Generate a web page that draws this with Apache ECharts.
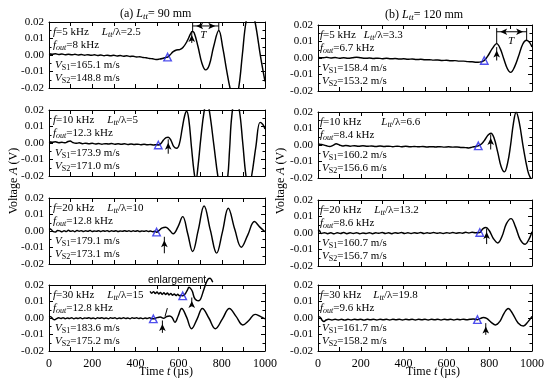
<!DOCTYPE html>
<html><head><meta charset="utf-8">
<script src="https://cdn.jsdelivr.net/npm/echarts/dist/echarts.min.js"></script>
<style>html,body{margin:0;padding:0;background:#fff}#c{width:550px;height:381px}</style>
</head><body><div id="c"></div>
<script>
// ---------------- data ----------------
const xTickLabels = [0, 200, 400, 600, 800, 1000];
const yTickLabels = [-0.02, -0.01, 0.00, 0.01, 0.02];

const freqs = ['5', '10', '20', '30'];
const ratioA = ['2.5', '5', '10', '15'];
const foutA = ['8', '12.3', '12.8', '12.8'];
const vs1A = ['165.1', '173.9', '179.1', '183.6'];
const vs2A = ['148.8', '171.0', '173.1', '175.2'];
const ratioB = ['3.3', '6.6', '13.2', '19.8'];
const foutB = ['6.7', '8.4', '8.6', '9.6'];
const vs1B = ['158.4', '160.2', '160.7', '161.7'];
const vs2B = ['153.2', '156.6', '156.7', '158.2'];

const a1 = [[0,0.0008],[15,0.0005],[30,0.0007],[45,0.0003],[60,0.0006],[75,0.0002],[90,0.0005],[105,0.0001],[120,0.0004],[135,0.0],[150,0.0003],[165,-0.0001],[180,0.0002],[195,-0.0002],[210,0.0001],[225,-0.0003],[240,0.0],[255,-0.0004],[270,-0.0001],[285,-0.0005],[300,-0.0002],[315,-0.0006],[330,-0.0003],[345,-0.0007],[360,-0.0005],[375,-0.0009],[390,-0.0007],[405,-0.0012],[420,-0.0011],[435,-0.0015],[450,-0.0017],[465,-0.0021],[480,-0.0023],[495,-0.0027],[510,-0.0025],[525,-0.0021],[540,-0.0015],[549,-0.0013],[560,0.0],[575,0.002],[590,0.003],[605,0.0033],[620,0.0045],[640,0.0085],[655,0.0128],[663,0.0142],[672,0.0135],[690,0.005],[708,-0.005],[725,-0.009],[742,-0.006],[762,0.005],[786,0.0148],[805,0.004],[822,-0.009],[838,-0.02],[858,-0.03],[878,-0.02],[895,0.0],[912,0.02],[933,0.03],[954,0.02],[980,-0.0015],[1000,-0.016]];

const a2 = [[0,0.0008],[15,0.0005],[30,0.0007],[45,0.0002],[60,0.0004],[75,0.0001],[88,0.0009],[98,0.0012],[110,0.0003],[125,-0.0002],[140,0.0001],[155,-0.0004],[170,-0.0001],[185,-0.0005],[200,-0.0002],[215,-0.0006],[230,-0.0003],[245,-0.0007],[260,-0.0004],[275,-0.0006],[290,-0.0003],[305,-0.0007],[320,-0.0005],[335,-0.0008],[350,-0.0005],[365,-0.0009],[380,-0.0006],[395,-0.0009],[410,-0.0007],[425,-0.001],[440,-0.0008],[455,-0.0011],[470,-0.0009],[485,-0.0012],[496,-0.001],[506,-0.0012],[518,-0.0003],[530,0.0018],[542,0.0032],[552,0.0035],[564,0.0018],[578,-0.0022],[591,-0.0032],[603,-0.0008],[617,0.009],[628,0.0165],[637,0.0192],[647,0.0145],[660,-0.003],[672,-0.018],[680,-0.0225],[690,-0.014],[703,0.003],[718,0.019],[731,0.025],[743,0.019],[763,-0.001],[784,-0.022],[805,-0.034],[826,-0.022],[836,-0.004],[846,0.016],[863,0.028],[881,0.02],[897,0.0],[912,-0.02],[925,-0.027],[938,-0.02],[958,-0.002],[977,0.0125],[990,0.0112],[1000,0.0085]];

const a3 = [[0,0.0015],[10,0.0009],[20,-0.0004],[30,-0.0006],[40,0.0003],[50,0.0001],[60,-0.0005],[70,0.0002],[80,-0.0003],[90,0.0004],[100,-0.0002],[110,0.0001],[120,-0.0004],[130,0.0003],[140,-0.0001],[150,0.0002],[160,-0.0003],[170,0.0001],[180,-0.0002],[190,0.0003],[200,-0.0003],[210,0.0],[220,-0.0002],[230,0.0002],[240,-0.0003],[250,0.0001],[260,-0.0001],[270,0.0002],[280,-0.0003],[290,0.0001],[300,-0.0002],[310,0.0002],[320,-0.0003],[330,0.0],[340,-0.0002],[350,0.0002],[360,-0.0002],[370,0.0001],[380,-0.0003],[390,0.0001],[400,-0.0002],[410,0.0002],[420,-0.0003],[430,0.0],[440,-0.0002],[450,0.0001],[460,-0.0003],[470,0.0],[480,-0.0004],[490,-0.0002],[498,-0.0007],[510,0.0004],[522,0.0017],[540,0.0023],[557,0.0006],[575,-0.0017],[597,0.0025],[619,0.0087],[642,-0.0015],[665,-0.0124],[691,0.0005],[718,0.0152],[747,0.0005],[776,-0.0134],[803,-0.0005],[830,0.0138],[860,0.001],[890,-0.0098],[920,-0.0025],[951,0.0057],[975,0.0025],[1000,-0.0005]];

const a4 = [[0,0.0011],[10,0.0006],[18,-0.0006],[26,-0.0011],[35,-0.0004],[45,0.0001],[55,-0.0003],[65,0.0002],[75,-0.0004],[85,0.0],[95,-0.0003],[105,0.0001],[115,-0.0004],[125,0.0],[135,-0.0003],[145,0.0001],[155,-0.0004],[165,0.0],[175,-0.0002],[185,0.0002],[195,-0.0003],[205,0.0],[215,-0.0004],[225,0.0001],[235,-0.0002],[245,0.0002],[255,-0.0003],[265,0.0],[275,-0.0004],[285,0.0001],[295,-0.0002],[305,0.0001],[315,-0.0004],[325,0.0],[335,-0.0003],[345,0.0001],[355,-0.0003],[365,0.0],[375,-0.0004],[385,0.0001],[395,-0.0002],[405,0.0001],[415,-0.0003],[425,0.0],[435,-0.0004],[445,0.0],[455,-0.0003],[465,0.0001],[475,-0.0004],[483,-0.0005],[500,0.0002],[515,0.0006],[530,-0.0002],[545,0.0009],[558,0.0012],[570,0.0003],[583,-0.0026],[598,0.0012],[614,0.0058],[637,0.0005],[660,-0.0065],[686,-0.0005],[710,0.0058],[740,0.0],[770,-0.0065],[803,-0.0005],[835,0.0058],[866,0.001],[897,-0.0042],[925,-0.0015],[954,0.0022],[980,0.0008],[1000,-0.0005]];

const a4Enlarged = [[468,0.0162],[476,0.0150],[484,0.0160],[492,0.0148],[500,0.0158],[508,0.0146],[516,0.0155],[524,0.0143],[532,0.0153],[540,0.0142],[548,0.0151],[556,0.0140],[564,0.0149],[572,0.0138],[580,0.0146],[588,0.0136],[596,0.0144],[604,0.0135],[612,0.0138],[619,0.0134],[630,0.0145],[640,0.0168],[648,0.0186],[656,0.0178],[664,0.016],[672,0.0125],[682,0.0108],[692,0.0104],[702,0.0115],[715,0.0165],[728,0.0215],[738,0.0238],[746,0.0241],[752,0.0232],[758,0.0217]];
const a4Connector = [[537,0.0009],[548,0.006]];

const b1 = [[0,0.0003],[20,0.0001],[40,0.0004],[60,0.0],[80,0.0003],[100,-0.0001],[120,0.0002],[140,-0.0002],[160,0.0001],[180,0.0005],[200,0.0001],[220,-0.0002],[240,0.0],[260,-0.0003],[280,-0.0001],[300,-0.0004],[320,-0.0002],[340,-0.0005],[360,-0.0003],[380,-0.0006],[400,-0.0005],[420,-0.0008],[440,-0.0006],[460,-0.0009],[480,-0.0008],[500,-0.0011],[520,-0.001],[540,-0.0013],[560,-0.0012],[580,-0.0015],[600,-0.0014],[620,-0.0017],[640,-0.0016],[660,-0.0019],[680,-0.0019],[700,-0.0022],[720,-0.0023],[740,-0.0026],[755,-0.0025],[777,-0.0015],[795,0.0015],[815,0.0058],[835,0.0087],[852,0.0055],[868,-0.0005],[885,-0.0065],[900,-0.0087],[918,-0.0055],[937,0.001],[957,0.0085],[975,0.0108],[990,0.0092],[1000,0.0066]];

const b2 = [[0,0.0007],[12,0.0004],[25,0.0001],[40,-0.0005],[55,-0.0009],[70,-0.0002],[85,0.0007],[100,0.0],[115,-0.0006],[130,-0.0003],[150,-0.0007],[170,-0.0004],[190,-0.0008],[210,-0.0005],[230,-0.0008],[250,-0.0006],[270,-0.0009],[290,-0.0006],[310,-0.0009],[330,-0.0007],[350,-0.001],[370,-0.0007],[390,-0.001],[410,-0.0008],[430,-0.0011],[450,-0.0009],[470,-0.0011],[490,-0.0009],[510,-0.0012],[530,-0.001],[550,-0.0012],[570,-0.001],[590,-0.0013],[610,-0.0011],[630,-0.0013],[650,-0.0012],[670,-0.0015],[690,-0.0016],[705,-0.0018],[720,-0.0013],[735,-0.0009],[749,-0.0005],[765,0.0008],[780,0.0032],[795,0.006],[808,0.0071],[822,0.0045],[840,-0.0045],[856,-0.0132],[871,-0.0163],[886,-0.011],[900,0.0],[913,0.013],[926,0.0198],[940,0.014],[960,-0.002],[980,-0.0155],[991,-0.0195],[1000,-0.021]];

const b3 = [[0,0.002],[8,0.0012],[15,-0.0003],[30,0.0002],[45,-0.0004],[60,0.0001],[75,-0.0005],[90,0.0002],[105,-0.0003],[120,0.0003],[135,-0.0004],[150,0.0001],[165,-0.0003],[180,0.0002],[195,-0.0004],[210,0.0],[225,-0.0003],[240,0.0002],[255,-0.0004],[270,0.0001],[285,-0.0002],[300,0.0003],[315,-0.0003],[330,0.0001],[345,-0.0004],[360,0.0002],[375,-0.0002],[390,0.0003],[405,-0.0003],[420,0.0001],[435,-0.0003],[450,0.0002],[465,-0.0002],[480,0.0003],[495,-0.0003],[510,0.0001],[525,-0.0002],[540,0.0003],[555,-0.0002],[570,0.0001],[585,-0.0003],[600,0.0002],[615,-0.0001],[630,0.0003],[645,-0.0002],[660,0.0002],[675,-0.0001],[690,0.0004],[705,0.0],[720,0.0004],[735,0.0002],[756,0.0003],[770,0.0025],[785,0.0033],[800,0.0015],[820,-0.0035],[840,-0.006],[860,-0.002],[880,0.0055],[902,0.0087],[922,0.004],[945,-0.004],[968,-0.0068],[985,-0.004],[1000,0.0008]];

const b4 = [[0,0.001],[10,0.0005],[20,-0.0015],[28,-0.0021],[38,-0.0012],[50,-0.0008],[65,-0.0012],[80,-0.0007],[95,-0.0012],[110,-0.0008],[125,-0.0013],[140,-0.0008],[155,-0.0012],[170,-0.0007],[185,-0.0011],[200,-0.0008],[215,-0.0013],[230,-0.0008],[245,-0.0011],[260,-0.0007],[275,-0.0012],[290,-0.0008],[305,-0.0011],[320,-0.0007],[335,-0.0012],[350,-0.0008],[365,-0.0011],[380,-0.0007],[395,-0.0012],[410,-0.0008],[425,-0.0011],[440,-0.0007],[455,-0.0012],[470,-0.0008],[485,-0.0011],[500,-0.0007],[515,-0.0012],[530,-0.0008],[545,-0.0011],[560,-0.0007],[575,-0.0012],[590,-0.0008],[605,-0.0011],[620,-0.0007],[635,-0.0012],[650,-0.0008],[665,-0.001],[680,-0.0007],[695,-0.0011],[710,-0.0008],[725,-0.0006],[745,-0.001],[760,-0.0002],[772,0.0003],[788,-0.0002],[808,-0.0025],[830,-0.0042],[850,-0.002],[870,0.003],[889,0.0058],[908,0.003],[935,-0.003],[960,-0.0048],[980,-0.0025],[1000,0.001]];

// onset markers (triangles) and arrival arrows [t, vFrom, vTo]
const triA = [[549,-0.0013],[506,-0.0012],[498,-0.0007],[483,-0.0005]];
const triB = [[777,-0.0015],[749,-0.0005],[756,0.0003],[745,-0.001]];
const arrowA = [[661,0.0073,0.0142],[552,-0.0065,0.0022],[534,-0.0135,-0.0035],[525,-0.009,-0.0015]];
const arrowB = [[835,-0.0015,0.0066],[807,-0.0027,0.0064],[788,-0.0067,0.0027],[784,-0.0102,-0.0031]];
const enlTri = [619,0.0134];
const enlArrow = [661,0.0073,0.0124];
const enlLabel = [593,0.0231];
// period markers: [t1, t2, peak1, peak2, barLevel, topLevel, labelT, labelV]
const periodA = [665, 786, 0.0142, 0.0148, 0.0176, 0.0195, 714, 0.0120];
const periodB = [835, 975, 0.0087, 0.0108, 0.0159, 0.0182, 902, 0.0104];

// ---------------- layout ----------------
const FS = 'Liberation Serif';
const colLeft = [49, 318], colWidth = [216, 214];
const rowTops = [[22, 110, 198, 285], [25, 112, 200, 285]];
const GH = 66;
const lGap = [[13, 13, 13, 13], [8, 20, 13, 12]];

const traces = [[a1, a2, a3, a4], [b1, b2, b3, b4]];
const texts = [
  {ratio: ratioA, fout: foutA, vs1: vs1A, vs2: vs2A, tri: triA, arrow: arrowA},
  {ratio: ratioB, fout: foutB, vs1: vs1B, vs2: vs2B, tri: triB, arrow: arrowB}
];

const grids = [], xAxes = [], yAxes = [], series = [];
const fmtY = v => (Math.abs(v) < 1e-9 ? 0 : v).toFixed(2);

function xAx(g, pos, showLabel) {
  return {gridIndex: g, type: 'value', position: pos, min: 0, max: 1000, interval: 100,
    axisLine: {show: true, onZero: false, lineStyle: {color: '#000', width: 1}},
    axisTick: {show: true, inside: true, length: 4, lineStyle: {color: '#000', width: 1}},
    axisLabel: {show: showLabel, margin: 7, color: '#000', fontFamily: FS, fontSize: 12,
      showMinLabel: true, showMaxLabel: true,
      formatter: v => (xTickLabels.indexOf(v) >= 0 ? String(v) : '')},
    splitLine: {show: false}};
}
function yAx(g, pos, showLabel) {
  return {gridIndex: g, type: 'value', position: pos, min: -0.02, max: 0.02, interval: 0.01,
    axisLine: {show: true, onZero: false, lineStyle: {color: '#000', width: 1}},
    axisTick: {show: true, inside: true, length: 4, lineStyle: {color: '#000', width: 1}},
    minorTick: {show: true, splitNumber: 2, length: 2.5, lineStyle: {color: '#000', width: 1}},
    axisLabel: {show: showLabel, margin: 5, color: '#000', fontFamily: FS, fontSize: 11,
      showMinLabel: true, showMaxLabel: true, formatter: fmtY},
    splitLine: {show: false}, minorSplitLine: {show: false}};
}
function lineS(ai, data, opts) {
  return Object.assign({type: 'line', xAxisIndex: ai, yAxisIndex: ai, data: data,
    symbol: 'none', showSymbol: true, smooth: 0.4, animation: false,
    lineStyle: {color: '#000', width: 1.45}, itemStyle: {color: '#000'}, z: 3}, opts || {});
}
function triS(ai, p) {
  return {type: 'scatter', xAxisIndex: ai, yAxisIndex: ai, data: [p], symbol: 'triangle',
    symbolSize: 7.5, animation: false, clip: false, z: 6,
    itemStyle: {color: 'rgba(255,255,255,0)', borderColor: '#2323e8', borderWidth: 1.4}};
}
function arrowS(ai, a) {
  return lineS(ai, [[a[0], a[1]], {value: [a[0], a[2]], symbol: 'arrow', symbolSize: [5, 7], symbolOffset: [0, 3.5]}],
    {smooth: false, clip: false, lineStyle: {color: '#000', width: 1}, z: 7});
}

for (let c = 0; c < 2; c++) {
  for (let r = 0; r < 4; r++) {
    const g = c * 4 + r;
    grids.push({left: colLeft[c], top: rowTops[c][r], width: colWidth[c], height: GH, outerBoundsMode: 'none'});
    xAxes.push(xAx(g, 'bottom', r === 3));
    xAxes.push(xAx(g, 'top', false));
    yAxes.push(yAx(g, 'left', true));
    yAxes.push(yAx(g, 'right', false));
    const ai = 2 * g;
    series.push(lineS(ai, traces[c][r], {clip: true}));
    series.push(triS(ai, texts[c].tri[r]));
    series.push(arrowS(ai, texts[c].arrow[r]));
  }
}
// period markers on first row
[[0, periodA], [4, periodB]].forEach(([g, p]) => {
  const ai = 2 * g;
  series.push(lineS(ai, [[p[0], p[5]], [p[0], p[2]]], {smooth: false, clip: false, lineStyle: {color: '#000', width: 1}, z: 7}));
  series.push(lineS(ai, [[p[1], p[5]], [p[1], p[3]]], {smooth: false, clip: false, lineStyle: {color: '#000', width: 1}, z: 7}));
  series.push(lineS(ai, [
    {value: [p[0], p[4]], symbol: 'arrow', symbolSize: [5, 7], symbolRotate: 90, symbolOffset: [3.5, 0]},
    {value: [p[1], p[4]], symbol: 'arrow', symbolSize: [5, 7], symbolRotate: -90, symbolOffset: [-3.5, 0]}],
    {smooth: false, clip: false, lineStyle: {color: '#000', width: 1}, z: 7}));
});
// enlargement in panel a4 (grid 3)
series.push(lineS(6, a4Enlarged, {clip: false, smooth: 0.3, lineStyle: {color: '#000', width: 1.45}}));
series.push(lineS(6, a4Connector, {clip: false, smooth: false, lineStyle: {color: '#000', width: 1}}));
series.push(triS(6, enlTri));
series.push(arrowS(6, enlArrow));

const chart = echarts.init(document.getElementById('c'), null, {renderer: 'canvas'});
chart.setOption({animation: false, backgroundColor: '#fff', grid: grids, xAxis: xAxes, yAxis: yAxes, series: series});

// ---------------- texts ----------------
function R(fs) {
  return {
    n: {fontFamily: FS, fontSize: fs, lineHeight: fs + 3, fill: '#000'},
    i: {fontFamily: FS, fontSize: fs, fontStyle: 'italic', lineHeight: fs + 3, fill: '#000'},
    s: {fontFamily: FS, fontSize: Math.round(fs * 0.72), lineHeight: Math.round(fs * 0.6), verticalAlign: 'bottom', fill: '#000'},
    si: {fontFamily: FS, fontSize: Math.round(fs * 0.72), fontStyle: 'italic', lineHeight: Math.round(fs * 0.6), verticalAlign: 'bottom', fill: '#000'},
    g: {width: 13, fontSize: fs, lineHeight: fs + 3}
  };
}
function T(x, y, text, fs, extra) {
  const st = Object.assign({text: text, rich: R(fs), fontFamily: FS, fontSize: fs, fill: '#000', align: 'left', verticalAlign: 'middle'}, (extra && extra.style) || {});
  const el = {type: 'text', x: x, y: y, silent: true, z: 100, style: st};
  if (extra && extra.rotation) el.rotation = extra.rotation;
  return el;
}
const graphics = [];
const lineOff = [10, 23, 43, 56];
for (let c = 0; c < 2; c++) {
  for (let r = 0; r < 4; r++) {
    const x0 = colLeft[c] + (c === 0 ? 4 : 2);
    const y0 = rowTops[c][r];
    const tx = texts[c];
    const l1 = T(x0, y0 + lineOff[0], `{i|f}{n|=${freqs[r]} kHz}{g| }{i|L}{si|tt}{n|/λ=${tx.ratio[r]}}`, 11);
    l1.style.rich.g.width = lGap[c][r];
    graphics.push(l1);
    graphics.push(T(x0, y0 + lineOff[1], `{i|f}{si|out}{n|=${tx.fout[r]} kHz}`, 11));
    graphics.push(T(x0 + 2, y0 + lineOff[2], `{i|V}{s|S1}{n|=${tx.vs1[r]} m/s}`, 11));
    graphics.push(T(x0 + 2, y0 + lineOff[3], `{i|V}{s|S2}{n|=${tx.vs2[r]} m/s}`, 11));
  }
}
// titles
graphics.push(T(120, 14, '{n|(a) }{i|L}{si|tt}{n|= 90 mm}', 12));
graphics.push(T(385, 15, '{n|(b) }{i|L}{si|tt}{n|= 120 mm}', 12));
// axis titles
graphics.push(T(14, 181, '{n|Voltage }{i|A}{n| (V)}', 12, {rotation: Math.PI / 2, style: {align: 'center'}}));
graphics.push(T(281, 181, '{n|Voltage }{i|A}{n| (V)}', 12, {rotation: Math.PI / 2, style: {align: 'center'}}));
graphics.push(T(166, 372, '{n|Time }{i|t}{n| (µs)}', 12, {style: {align: 'center'}}));
graphics.push(T(433, 372, '{n|Time }{i|t}{n| (µs)}', 12, {style: {align: 'center'}}));
// period labels
[[0, periodA], [4, periodB]].forEach(([g, p]) => {
  const px = chart.convertToPixel({xAxisIndex: 2 * g, yAxisIndex: 2 * g}, [p[6], p[7]]);
  graphics.push(T(px[0], px[1], '{i|T}', 11, {style: {align: 'center'}}));
});
// enlargement label
const ep = chart.convertToPixel({xAxisIndex: 6, yAxisIndex: 6}, enlLabel);
graphics.push({type: 'text', x: ep[0], y: ep[1], silent: true, z: 100,
  style: {text: 'enlargement', fontFamily: 'Liberation Sans', fontSize: 10.5, fill: '#000', align: 'center', verticalAlign: 'middle'}});

chart.setOption({graphic: graphics});
</script>
</body></html>
